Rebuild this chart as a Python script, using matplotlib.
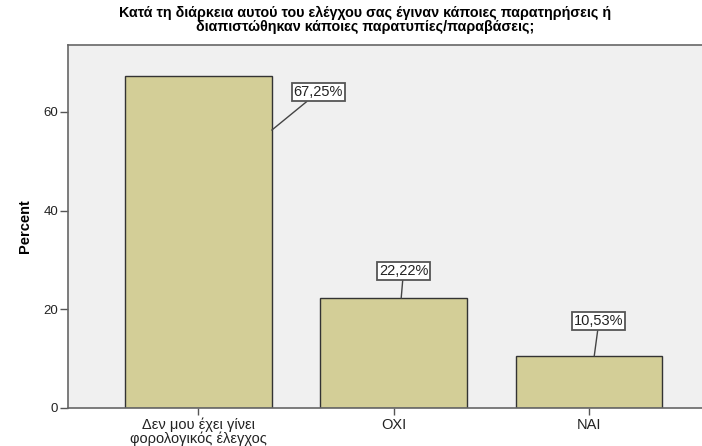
import matplotlib
matplotlib.use("Agg")
import matplotlib.pyplot as plt

categories = ["Δεν μου έχει γίνει\nφορολογικός έλεγχος", "ΟΧΙ", "ΝΑΙ"]
percents = [67.25, 22.22, 10.53]
labels = ["67,25%", "22,22%", "10,53%"]
# label box centres (x offset from bar centre, y in percent) and leader start
box_pos = [(0.614, 64.0), (0.05, 27.8), (0.05, 17.6)]
leader_start = [(0.376, 56.3), (0.038, 22.22), (0.026, 10.53)]

plt.rcParams["font.family"] = ["Liberation Sans", "DejaVu Sans"]

fig = plt.figure(figsize=(7.02, 4.46), dpi=100)
ax = fig.add_axes([68 / 702, 38 / 446, 651.5 / 702, 363.3 / 446])
ax.set_facecolor("#f0f0f0")

x = list(range(len(categories)))
ax.bar(x, percents, width=0.75, color="#d3ce97", edgecolor="#333333",
       linewidth=1.0, zorder=2)

ax.set_xlim(-0.667, 2.667)
ax.set_ylim(0, 73.6)
ax.set_yticks([0, 20, 40, 60])
ax.set_xticks(x)
ax.set_xticklabels(categories, fontsize=10.5, color="#222222", linespacing=0.95)
ax.tick_params(axis="y", length=6, width=1, color="#555555", labelsize=9.5,
               labelcolor="#222222", pad=1)
ax.tick_params(axis="x", length=5, width=1, color="#555555", pad=2)
ax.set_ylabel("Percent", fontsize=10.5, fontweight="bold", labelpad=8)
for s in ax.spines.values():
    s.set_color("#666666")
    s.set_linewidth(1.2)

for i, (lab, (dx, by), (lx, ly)) in enumerate(zip(labels, box_pos, leader_start)):
    ax.annotate(lab, xy=(i + lx, ly), xytext=(i + dx, by),
                ha="center", va="center", fontsize=10.5, color="#222222",
                bbox=dict(boxstyle="square,pad=0.12", fc="white", ec="#555555", lw=1.3),
                arrowprops=dict(arrowstyle="-", color="#444444", lw=1.0,
                                shrinkA=0, shrinkB=0),
                zorder=5)

fig.text(365 / 702, 1 - 19.5 / 446,
         "Κατά τη διάρκεια αυτού του ελέγχου σας έγιναν κάποιες παρατηρήσεις ή\n"
         "διαπιστώθηκαν κάποιες παρατυπίες/παραβάσεις;",
         ha="center", va="center", fontsize=10.3, fontweight="bold",
         linespacing=1.0)

fig.savefig("out.png", dpi=100)
